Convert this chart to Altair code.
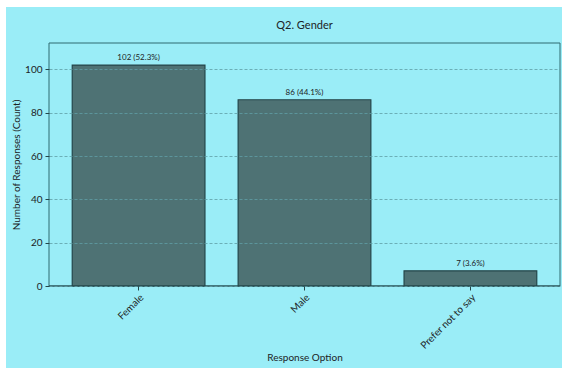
import altair as alt
import pandas as pd

# Survey responses for question 2
categories = ["Female", "Male", "Prefer not to say"]
counts = [102, 86, 7]

total = sum(counts)
labels = [f"{c} ({c / total * 100:.1f}%)" for c in counts]

df = pd.DataFrame({"option": categories, "count": counts, "label": labels})
single = pd.DataFrame({"title": ["Q2. Gender"]})

FONT = "Lato"
BG = "#9aedf7"
BAR = "#4e7274"
EDGE = "#24464a"
FRAME = "#2f6a70"
INK = "#1c2426"

x_enc = alt.X(
    "option:N",
    sort=categories,
    title="Response Option",
    scale=alt.Scale(paddingInner=0.2, paddingOuter=0.14),
    axis=alt.Axis(
        labelAngle=-45,
        labelAlign="right",
        labelBaseline="top",
        labelFontSize=10,
        labelColor=INK,
        labelPadding=2,
        tickSize=4,
        tickColor=EDGE,
        domain=False,
        grid=False,
        titleFontSize=10,
        titleFontWeight="normal",
        titleColor=INK,
        titleY=74,
        titleBaseline="alphabetic",
        zindex=1,
    ),
)

y_enc = alt.Y(
    "count:Q",
    title="Number of Responses (Count)",
    scale=alt.Scale(domain=[0, 112.2], nice=False),
    axis=alt.Axis(
        values=[0, 20, 40, 60, 80, 100],
        labelFontSize=10,
        labelColor=INK,
        labelPadding=3,
        tickSize=4,
        tickColor=EDGE,
        domain=False,
        grid=True,
        gridColor="#5f9ea6",
        gridDash=[3, 2],
        gridWidth=0.8,
        titleFontSize=10,
        titleFontWeight="normal",
        titleColor=INK,
        titleX=-28,
        titleBaseline="bottom",
        zindex=1,
    ),
)

# Cyan panel behind everything, leaving a thin white margin top-left
panel = alt.Chart(single).mark_rect(color=BG, clip=False).encode(
    x=alt.value(-43), x2=alt.value(513), y=alt.value(-36), y2=alt.value(325)
)

# Plot-area frame
frame = alt.Chart(single).mark_rect(
    fill=None, stroke=FRAME, strokeWidth=1, clip=False
).encode(x=alt.value(0), x2=alt.value(511), y=alt.value(0), y2=alt.value(243))

# Chart title
title = alt.Chart(single).mark_text(
    fontSize=11, fontWeight="normal", color=INK, font=FONT, baseline="middle"
).encode(x=alt.value(255.5), y=alt.value(-17), text="title:N")

bars = alt.Chart(df).mark_bar(
    color=BAR, stroke=EDGE, strokeWidth=1.2
).encode(x=x_enc, y=y_enc)

zero_line = alt.Chart(single).mark_rule(color=EDGE, strokeWidth=1.2).encode(
    y=alt.datum(0)
)

texts = alt.Chart(df).mark_text(
    dy=-7, fontSize=8, color=INK, font=FONT
).encode(
    x=alt.X("option:N", sort=categories),
    y="count:Q",
    text="label:N",
)

chart = alt.layer(panel, frame, title, bars, zero_line, texts).properties(
    width=511,
    height=243,
    autosize=alt.AutoSizeParams(type="none"),
    padding={"left": 49, "top": 43, "right": 2, "bottom": 82},
    background="white",
).configure(font=FONT).configure_view(stroke=None, fill=None)

chart.save("out.html", embed_options={"renderer": "svg", "actions": False})
